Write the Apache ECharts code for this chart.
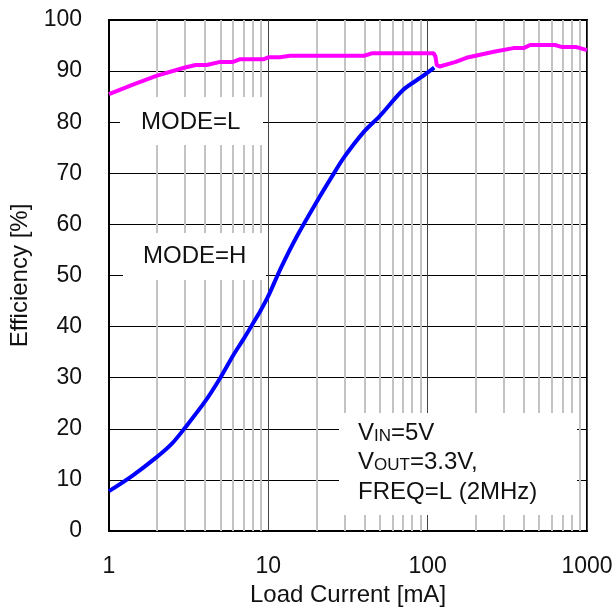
<!DOCTYPE html>
<html>
<head>
<meta charset="utf-8">
<script src="https://cdn.jsdelivr.net/npm/echarts@6/dist/echarts.min.js"></script>
<style>
  html, body { margin: 0; padding: 0; background: #fff; }
  #chart { width: 614px; height: 615px; }
</style>
</head>
<body>
<div id="chart"></div>
<script>
// efficiency vs load current, MODE=H (blue) and MODE=L (magenta)
const modeH = [
  [1, 7.8], [1.4, 10.8], [2, 14.5], [2.5, 17.2], [3, 20.2], [4, 25.3], [5, 30],
  [6, 34.3], [7, 37.6], [8, 40.6], [9, 43.3], [10, 46.0], [12, 51.5], [15, 57.5],
  [20, 64.3], [25, 69.3], [30, 73.2], [40, 78.2], [50, 81.2], [70, 86.3],
  [90, 88.7], [110, 90.7]
];
const modeL = [
  [1, 85.5], [1.4, 87.3], [2, 89.1], [3, 90.7], [3.5, 91.2], [4.1, 91.2], [5, 91.8],
  [6, 91.8], [6.6, 92.3], [9.3, 92.3], [10, 92.7], [11.8, 92.7], [13.7, 93.0],
  [40, 93.0], [45, 93.5], [109, 93.5], [112, 92.8], [114, 91.2], [119, 90.9],
  [150, 91.8], [175, 92.6], [260, 93.8], [345, 94.5], [400, 94.5], [440, 95.1],
  [630, 95.1], [700, 94.7], [860, 94.7], [1000, 94.1]
];
// minor gridlines of the log axis
const minorX = [2, 3, 4, 5, 6, 7, 8, 9, 20, 30, 40, 50, 60, 70, 80, 90,
  200, 300, 400, 500, 600, 700, 800, 900];

const FONT = "'Liberation Sans', Arial, sans-serif";

const chart = echarts.init(document.getElementById("chart"));

const option = {
  animation: false,
  backgroundColor: "#fff",
  grid: {
    left: 109,
    right: 27,
    top: 20,
    bottom: 84,
    outerBoundsMode: "none",
    containLabel: false,
    show: true,
    borderColor: "#000",
    borderWidth: 2,
  },
  xAxis: {
    type: "log",
    logBase: 10,
    min: 1,
    max: 1000,
    name: "Load Current [mA]",
    nameLocation: "middle",
    nameGap: 48,
    nameTextStyle: { fontFamily: FONT, fontSize: 24, color: "#111" },
    axisLine: { show: true, lineStyle: { color: "#000", width: 2 } },
    axisTick: { show: false },
    axisLabel: { fontFamily: FONT, fontSize: 23, color: "#111", margin: 24, formatter: (v) => String(v) },
    splitLine: { show: true, lineStyle: { color: "#444", width: 1 } },
  },
  yAxis: {
    type: "value",
    min: 0,
    max: 100,
    interval: 10,
    name: "Efficiency [%]",
    nameLocation: "middle",
    nameGap: 76,
    nameTextStyle: { fontFamily: FONT, fontSize: 24, color: "#111" },
    axisLine: { show: true, lineStyle: { color: "#000", width: 2 } },
    axisTick: { show: false },
    axisLabel: { fontFamily: FONT, fontSize: 23, color: "#111", margin: 27 },
    splitLine: { show: true, lineStyle: { color: "#000", width: 1 } },
  },
  graphic: [
    // MODE=L label box
    { type: "rect", z: 3, silent: true, shape: { x: 120, y: 97, width: 143, height: 48 }, style: { fill: "#fff" } },
    { type: "text", z: 3, silent: true, style: { x: 141, y: 122, text: "MODE=L", font: "24px " + FONT, fill: "#111", verticalAlign: "middle" } },
    // MODE=H label box
    { type: "rect", z: 3, silent: true, shape: { x: 123, y: 233, width: 143, height: 47 }, style: { fill: "#fff" } },
    { type: "text", z: 3, silent: true, style: { x: 143, y: 256, text: "MODE=H", font: "24px " + FONT, fill: "#111", verticalAlign: "middle" } },
    // conditions box
    { type: "rect", z: 3, silent: true, shape: { x: 339, y: 413, width: 238, height: 102 }, style: { fill: "#fff" } },
    {
      type: "text", z: 3, silent: true,
      style: {
        x: 358, y: 445, text: "{b|V}{s|IN}{b|=5V}", fill: "#111", verticalAlign: "bottom",
        rich: { b: { fontFamily: FONT, fontSize: 24, fill: "#111" }, s: { fontFamily: FONT, fontSize: 17, fill: "#111", verticalAlign: "bottom" } },
      },
    },
    {
      type: "text", z: 3, silent: true,
      style: {
        x: 358, y: 474, text: "{b|V}{s|OUT}{b|=3.3V,}", fill: "#111", verticalAlign: "bottom",
        rich: { b: { fontFamily: FONT, fontSize: 24, fill: "#111" }, s: { fontFamily: FONT, fontSize: 17, fill: "#111", verticalAlign: "bottom" } },
      },
    },
    { type: "text", z: 3, silent: true, style: { x: 358, y: 492, text: "FREQ=L (2MHz)", font: "24px " + FONT, fill: "#111", verticalAlign: "middle" } },
  ],
  series: [
    {
      name: "minor",
      type: "line",
      data: [],
      silent: true,
      markLine: {
        z: 1,
        silent: true,
        symbol: ["none", "none"],
        label: { show: false },
        lineStyle: { color: "#c3c3c3", width: 2, type: "solid" },
        data: minorX.map((v) => ({ xAxis: v })),
      },
    },
    {
      name: "MODE=L",
      type: "line",
      z: 5,
      data: modeL,
      showSymbol: false,
      lineStyle: { color: "#ff00ff", width: 4 },
    },
    {
      name: "MODE=H",
      type: "line",
      z: 5,
      data: modeH,
      showSymbol: false,
      smooth: 0.3,
      lineStyle: { color: "#0000ff", width: 4 },
    },
  ],
};

chart.setOption(option);
</script>
</body>
</html>
